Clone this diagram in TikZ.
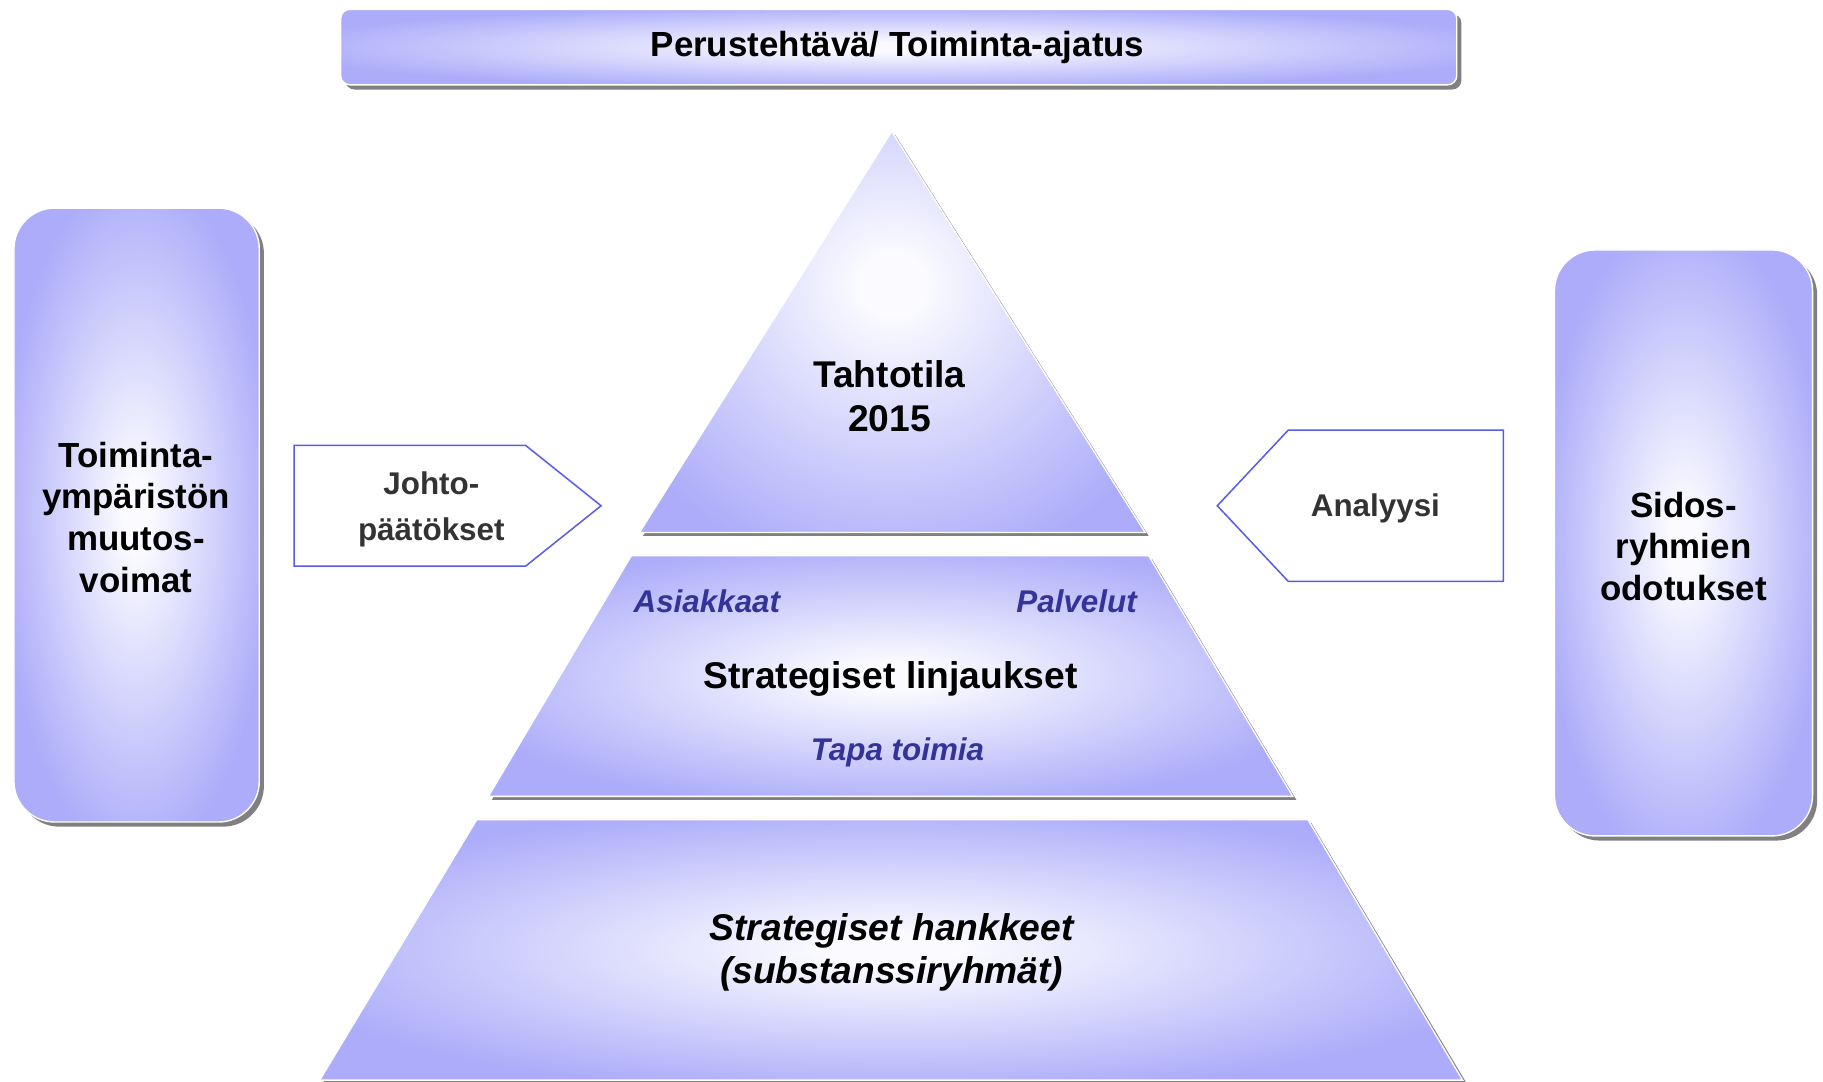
\documentclass[tikz,border=0pt]{standalone}
\usepackage{fontspec}
\setmainfont{Liberation Sans}
\definecolor{cp}{RGB}{172,172,250}
\definecolor{cw}{RGB}{250,250,255}
\definecolor{shad}{RGB}{128,128,128}
\definecolor{abord}{RGB}{90,90,235}
\definecolor{dblue}{RGB}{51,51,153}
\definecolor{dgray}{RGB}{51,51,51}
\pgfdeclareradialshading{soft}{\pgfpoint{0bp}{0bp}}{color(0bp)=(cw); color(3bp)=(cw); color(28bp)=(cp); color(50bp)=(cp)}
\begin{document}
\begin{tikzpicture}[x=1pt,y=-1pt,
  shadowfill/.style={fill=shad},
  softbody/.style={shading=soft,draw=white,line width=1.2pt},
  arrowbox/.style={draw=abord,fill=white,line width=1.3pt},
  txt/.style={inner sep=0pt,align=center,font=\bfseries},
  f32/.style={font=\fontsize{32}{38}\selectfont\bfseries},
  f30/.style={font=\fontsize{30}{36}\selectfont\bfseries},
  f27/.style={font=\fontsize{27}{40}\selectfont\bfseries},
  f27i/.style={font=\fontsize{27}{32}\selectfont\bfseries\itshape,text=dblue},
  f32i/.style={font=\fontsize{32}{37.5}\selectfont\bfseries\itshape}]
\useasboundingbox (0,0) rectangle (1568,930);

% Banner
\fill[shadowfill,rounded corners=8] (297,12) rectangle (1257,77);
\shadedraw[softbody,rounded corners=8] (293,8) rectangle (1253,73);
\node[txt,f30] (banner) at (772,41) {Perustehtävä/ Toiminta-ajatus};

% Left box
\fill[shadowfill,rounded corners=35] (16,183) rectangle (227,711);
\shadedraw[softbody,rounded corners=35] (12,179) rectangle (223,707);
\node[txt,f30] (left) at (117,445) {Toiminta-\\ympäristön\\muutos-\\voimat};

% Right box
\fill[shadowfill,rounded corners=35] (1341,219) rectangle (1563,723);
\shadedraw[softbody,rounded corners=35] (1337,215) rectangle (1559,719);
\node[txt,f30] (right) at (1448,470) {Sidos-\\ryhmien\\odotukset};

% Arrows
\draw[arrowbox] (253,383) -- (452,383) -- (517,435) -- (452,487) -- (253,487) -- cycle;
\node[txt,f27,text=dgray] (johto) at (371,438) {Johto-\\päätökset};
\draw[arrowbox] (1293,370) -- (1108,370) -- (1047,435) -- (1108,500) -- (1293,500) -- cycle;
\node[txt,f27,text=dgray] (analyysi) at (1183,437) {Analyysi};

% Top triangle
\fill[shadowfill] (770,116) -- (988,461) -- (553,461) -- cycle;
\begin{scope}
  \clip (767,113) -- (985,458) -- (550,458) -- cycle;
  \shade[shading=soft] (530,20) rectangle (1005,470);
\end{scope}
\draw[white,line width=1.2pt] (767,113) -- (985,458) -- (550,458) -- cycle;
\node[txt,f32] (tahto) at (765,341) {Tahtotila\\2015};

% Middle trapezoid
\fill[shadowfill] (546,481) -- (991,481) -- (1115,688) -- (423,688) -- cycle;
\shadedraw[softbody] (543,478) -- (988,478) -- (1112,685) -- (420,685) -- cycle;
\node[txt,f27i] (asiakkaat) at (608,517) {Asiakkaat};
\node[txt,f27i] (palvelut) at (926,517) {Palvelut};
\node[txt,f32] (linjaukset) at (766,584) {Strategiset linjaukset};
\node[txt,f27i] (tapa) at (772,647) {Tapa toimia};

% Bottom trapezoid
\fill[shadowfill] (413,708) -- (1128,708) -- (1261,931) -- (278,931) -- cycle;
\shadedraw[softbody] (410,705) -- (1125,705) -- (1258,929) -- (275,929) -- cycle;
\node[txt,f32i] (hankkeet) at (767,819) {Strategiset hankkeet\\(substanssiryhmät)};
\end{tikzpicture}
\end{document}
